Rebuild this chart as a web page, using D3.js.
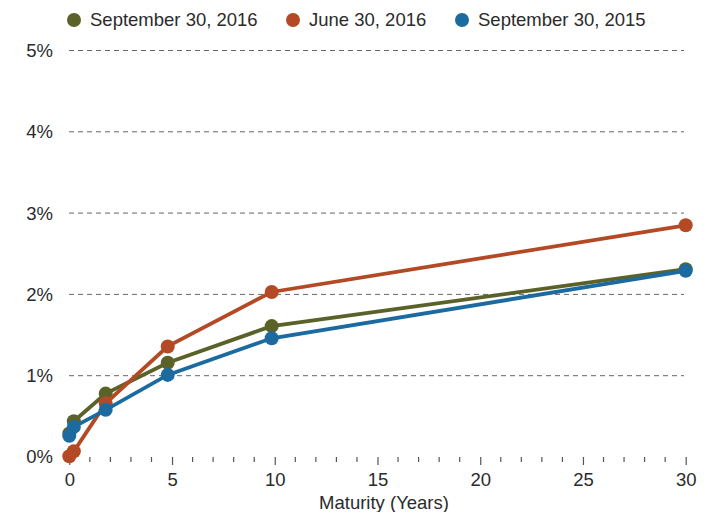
<!DOCTYPE html>
<html>
<head>
<meta charset="utf-8">
<script src="https://cdn.jsdelivr.net/npm/d3@7"></script>
<style>
body { margin: 0; background: #fff; }
text { font-family: "Liberation Sans", Arial, sans-serif; fill: #2b2b2b; }
</style>
</head>
<body>
<div id="main-vis"></div>
<script>
// series names + colors
var seriesNames = ["September 30, 2016", "June 30, 2016", "September 30, 2015"];
var seriesColors = ["#5b6229", "#b44a25", "#1b6ba1"];

// maturities (years) as placed on the chart
var maturity = [0, 0.22, 1.77, 4.79, 9.85, 30];

// yields in %
var sep2016 = [0.29, 0.44, 0.78, 1.16, 1.61, 2.31];
var jun2016 = [0.01, 0.07, 0.66, 1.36, 2.03, 2.85];
var sep2015 = [0.26, 0.37, 0.58, 1.01, 1.46, 2.29];

var yTicks = [0, 1, 2, 3, 4, 5];
var xTicks = [0, 5, 10, 15, 20, 25, 30];

var values = [sep2016, jun2016, sep2015];
var drawOrder = [0, 1, 2];

var width = 716, height = 512;

var x = d3.scaleLinear().domain([0, 30]).range([69.3, 685.7]);
var y = d3.scaleLinear().domain([0, 5]).range([457, 50.5]);

var svg = d3.select("#main-vis").append("svg")
     .attr("width", width)
     .attr("height", height);

// gridlines
svg.append("g")
     .selectAll("line")
     .data(yTicks.filter(function (d) { return d > 0; }))
     .enter().append("line")
     .attr("x1", 69)
     .attr("x2", 684)
     .attr("y1", function (d) { return y(d); })
     .attr("y2", function (d) { return y(d); })
     .attr("stroke", "#666")
     .attr("stroke-width", 1)
     .attr("stroke-dasharray", "5,4");

// y labels
svg.append("g")
     .selectAll("text")
     .data(yTicks)
     .enter().append("text")
     .attr("x", 53)
     .attr("y", function (d) { return y(d); })
     .attr("dy", "0.35em")
     .attr("text-anchor", "end")
     .style("font-size", "18.5px")
     .text(function (d) { return d + "%"; });

// x axis: major + minor ticks
var xAxis = d3.axisBottom(x)
     .tickValues(xTicks)
     .tickSize(8)
     .tickPadding(8)
     .tickFormat(function (d) { return d; });
var gx = svg.append("g")
     .attr("transform", "translate(0,457)")
     .call(xAxis);
gx.select(".domain").remove();
gx.selectAll(".tick line").attr("stroke", "#555").attr("stroke-width", 1.2);
gx.selectAll(".tick text").style("font-size", "18.5px").style("font-family", "Liberation Sans, Arial, sans-serif").attr("fill", "#2b2b2b");

var minor = d3.range(0, 31).filter(function (d) { return d % 5 !== 0; });
svg.append("g")
     .selectAll("line")
     .data(minor)
     .enter().append("line")
     .attr("x1", function (d) { return x(d); })
     .attr("x2", function (d) { return x(d); })
     .attr("y1", 457)
     .attr("y2", 462)
     .attr("stroke", "#555")
     .attr("stroke-width", 1.2);

svg.append("text")
     .attr("x", 384)
     .attr("y", 509)
     .attr("text-anchor", "middle")
     .style("font-size", "18.5px")
     .text("Maturity (Years)");

// lines and points
var valueline = d3.line()
     .x(function (d) { return x(d[0]); })
     .y(function (d) { return y(d[1]); });

drawOrder.forEach(function (i) {
     var pts = maturity.map(function (m, j) { return [m, values[i][j]]; });
     svg.append("path")
          .datum(pts)
          .attr("d", valueline)
          .attr("fill", "none")
          .attr("stroke", seriesColors[i])
          .attr("stroke-width", 3.8);
     svg.append("g")
          .selectAll("circle")
          .data(pts)
          .enter().append("circle")
          .attr("r", 7)
          .attr("cx", function (d) { return x(d[0]); })
          .attr("cy", function (d) { return y(d[1]); })
          .attr("fill", seriesColors[i]);
});

// legend
var legendX = [74, 293, 462];
var leg = svg.append("g")
     .selectAll("g")
     .data(seriesNames)
     .enter().append("g")
     .attr("transform", function (d, i) { return "translate(" + legendX[i] + ",20)"; });
leg.append("circle")
     .attr("r", 7)
     .attr("fill", function (d, i) { return seriesColors[i]; });
leg.append("text")
     .attr("x", 16)
     .attr("dy", "0.35em")
     .style("font-size", "18.5px")
     .text(function (d) { return d; });
</script>
</body>
</html>
